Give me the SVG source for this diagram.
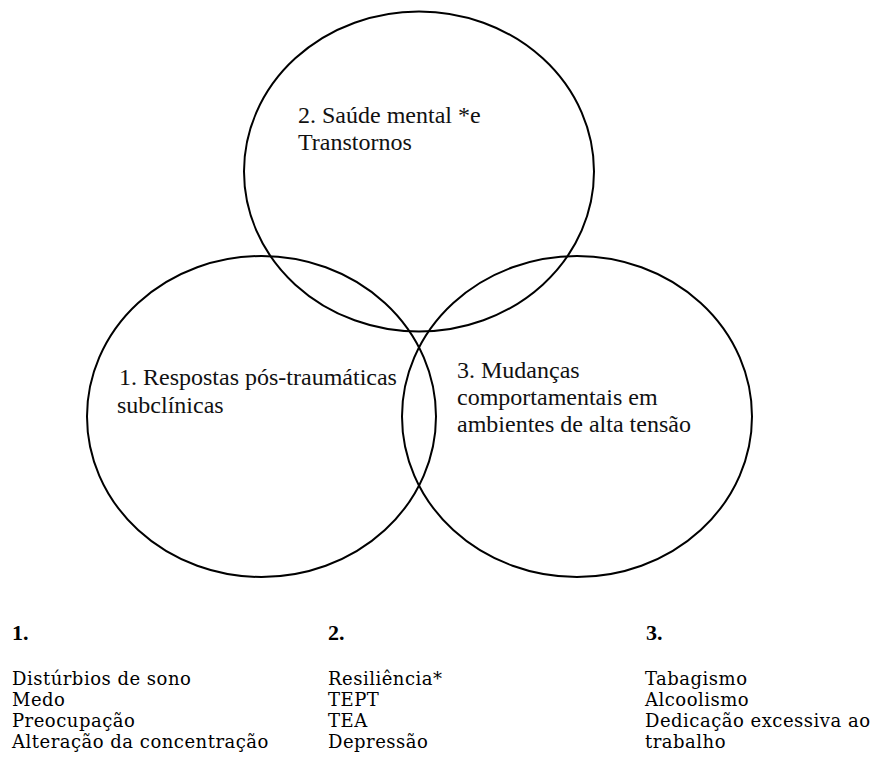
<svg xmlns="http://www.w3.org/2000/svg" width="875" height="763" viewBox="0 0 875 763">
<style>
.c{fill:none;stroke:#000;stroke-width:2}
.t{font-family:"Liberation Serif","Times New Roman",serif;font-size:24px;fill:#111}
.h{font-family:"Liberation Serif","Times New Roman",serif;font-size:22px;font-weight:bold;fill:#000}
.l{font-family:"DejaVu Serif","Liberation Serif",serif;font-size:18px;letter-spacing:0.5px;fill:#000}
</style>
<rect width="875" height="763" fill="#fff"/>
<g id="circle2">
<ellipse class="c" cx="419" cy="171.5" rx="175" ry="160"/>
<text class="t" x="298" y="123">2. Saúde mental *e</text>
<text class="t" x="298" y="150">Transtornos</text>
</g>
<g id="circle1">
<ellipse class="c" cx="261.5" cy="416.5" rx="174.5" ry="160.5"/>
<text class="t" x="119" y="385">1. Respostas pós-traumáticas</text>
<text class="t" x="117" y="412.5">subclínicas</text>
</g>
<g id="circle3">
<ellipse class="c" cx="577" cy="416.5" rx="175" ry="160.5"/>
<text class="t" x="457" y="378">3. Mudanças</text>
<text class="t" x="457" y="405">comportamentais em</text>
<text class="t" x="457" y="432">ambientes de alta tensão</text>
</g>
<g id="connectors"></g>
<g id="list1">
<text class="h" x="12" y="640">1.</text>
<text class="l" x="12" y="685">Distúrbios de sono</text>
<text class="l" x="12" y="706">Medo</text>
<text class="l" x="12" y="727">Preocupação</text>
<text class="l" x="12" y="748">Alteração da concentração</text>
</g>
<g id="list2">
<text class="h" x="328" y="640">2.</text>
<text class="l" x="328" y="685">Resiliência*</text>
<text class="l" x="328" y="706">TEPT</text>
<text class="l" x="328" y="727">TEA</text>
<text class="l" x="328" y="748">Depressão</text>
</g>
<g id="list3">
<text class="h" x="646" y="640">3.</text>
<text class="l" x="645" y="685">Tabagismo</text>
<text class="l" x="645" y="706">Alcoolismo</text>
<text class="l" x="645" y="727">Dedicação excessiva ao</text>
<text class="l" x="645" y="748">trabalho</text>
</g>
</svg>
